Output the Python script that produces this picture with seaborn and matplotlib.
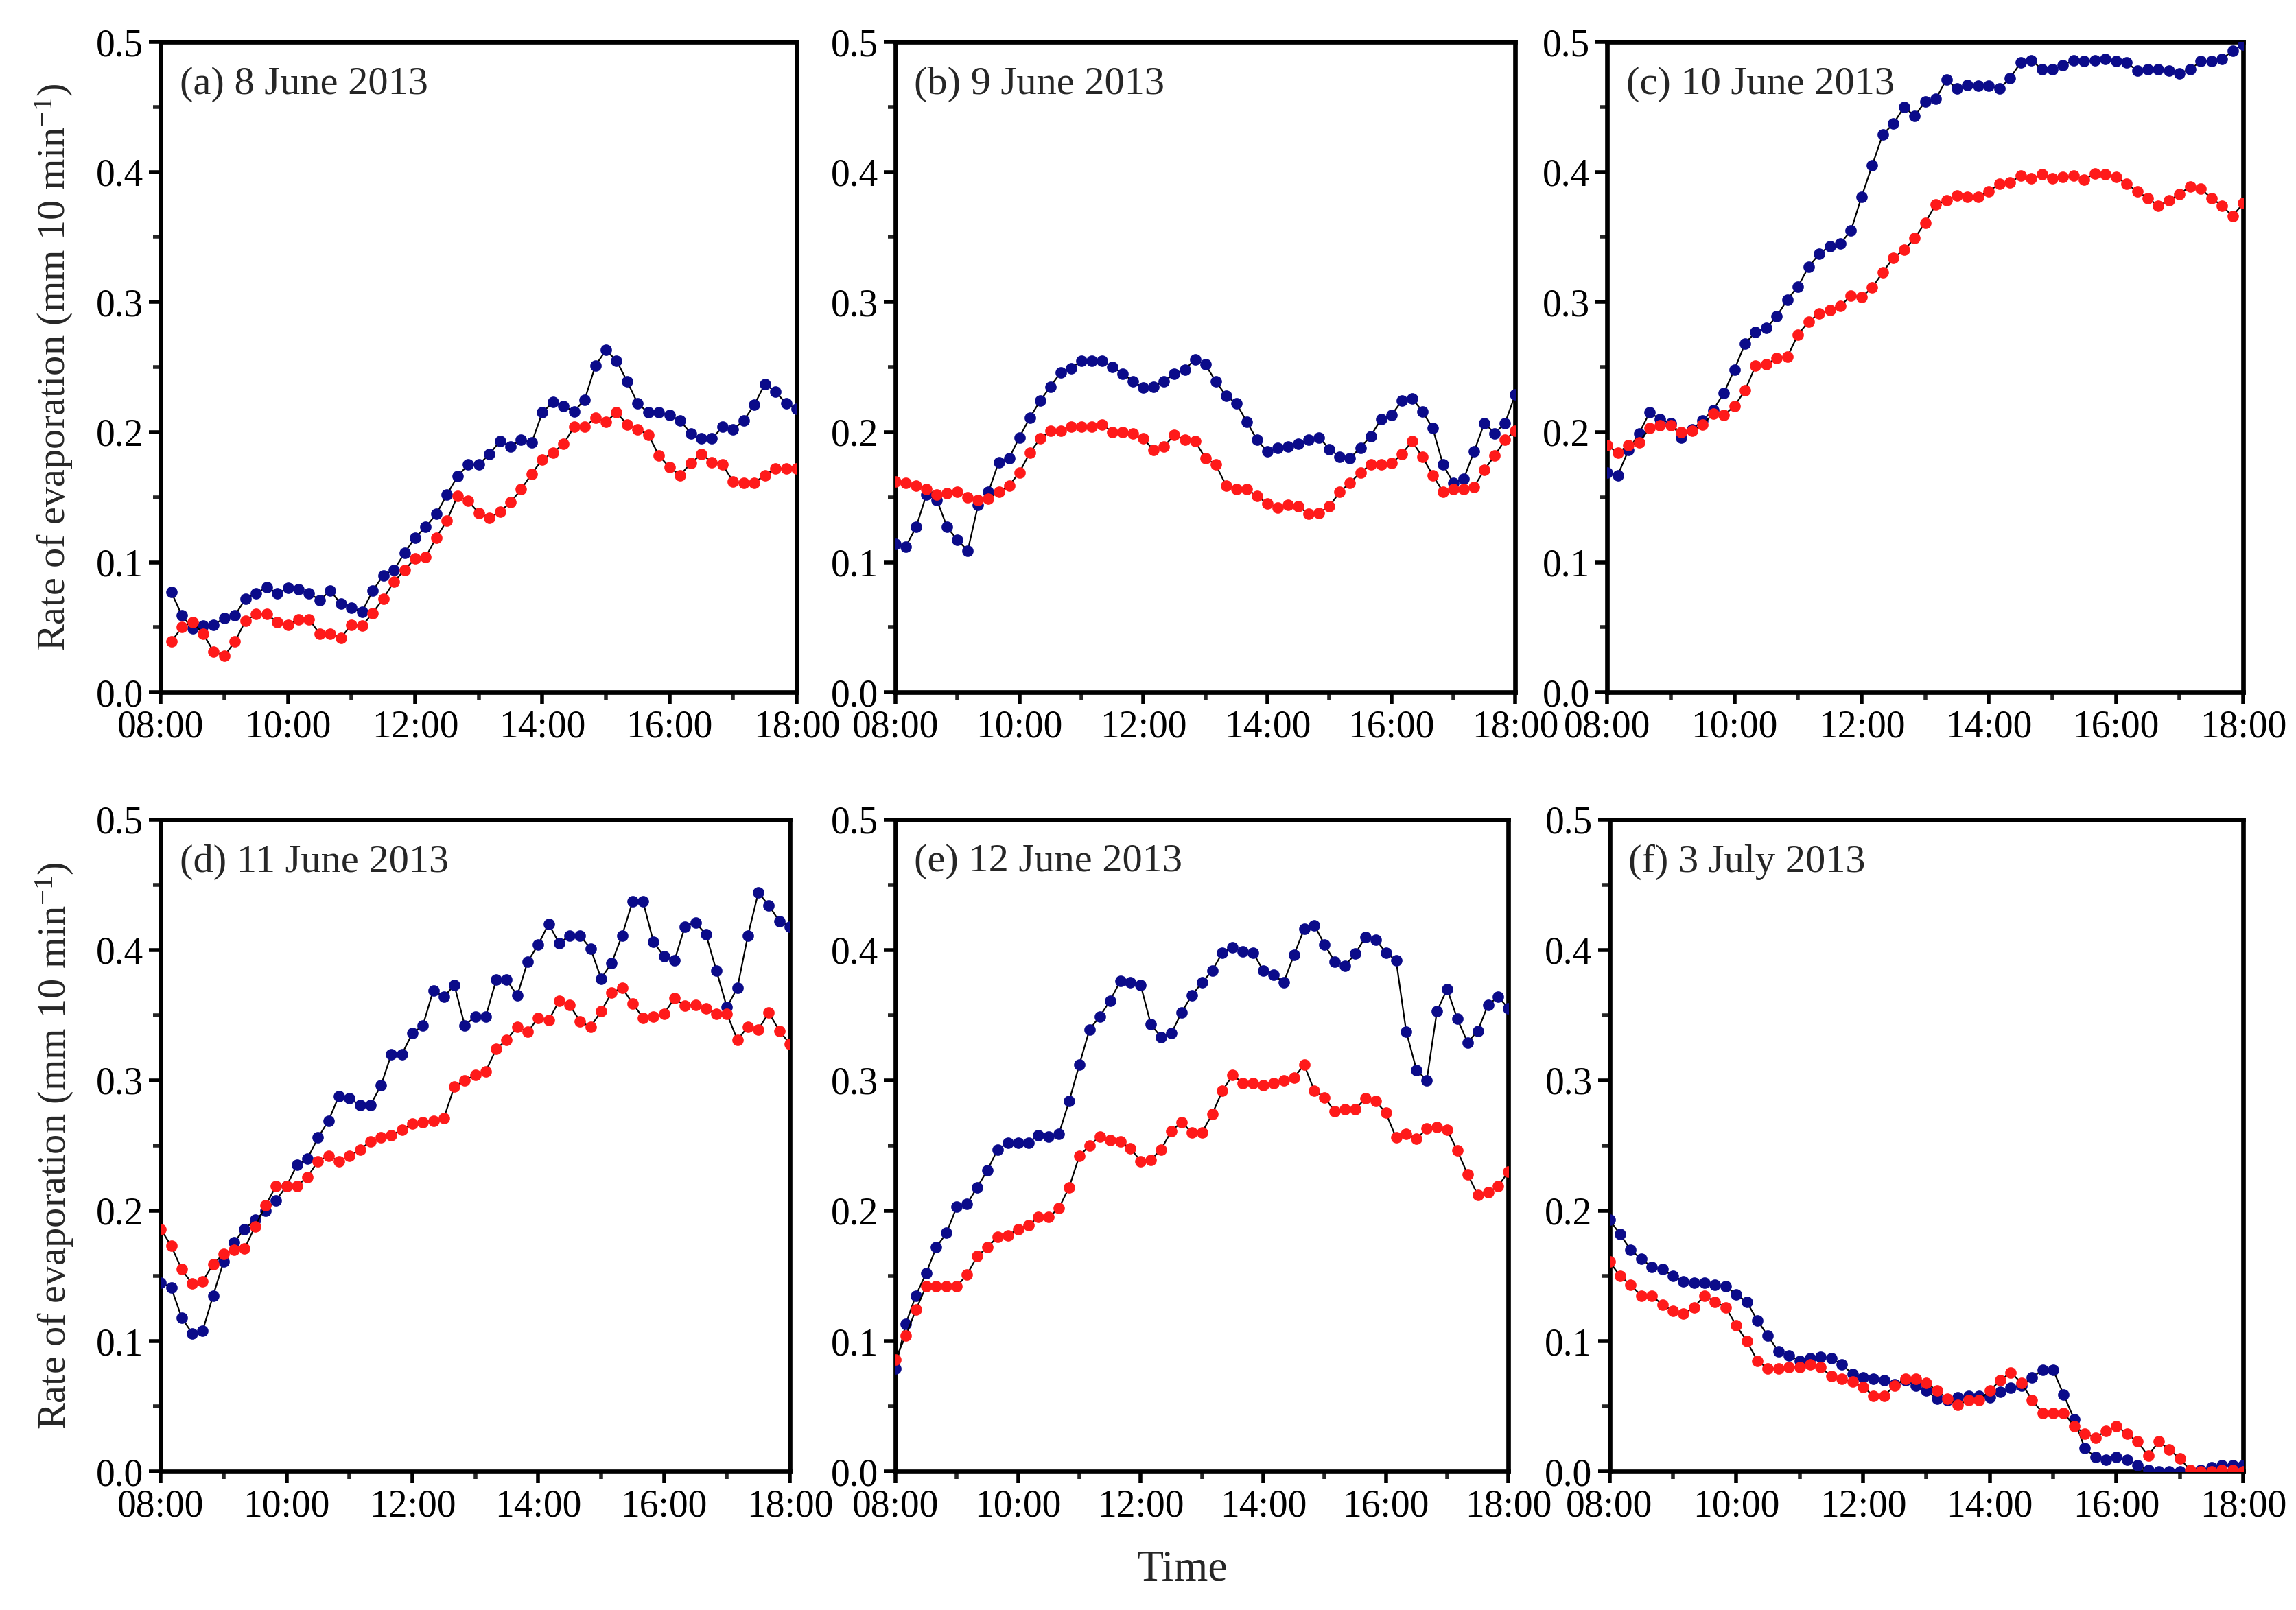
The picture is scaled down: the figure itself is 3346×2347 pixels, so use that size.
import numpy as np
import pandas as pd
import matplotlib
matplotlib.use('Agg')
import matplotlib.pyplot as plt
import seaborn as sns

# time grid: every 10 min from 08:00 to 18:00 (hours of day)
minutes = np.arange(8 * 60, 18 * 60 + 1, 10)
hours = minutes / 60.0
tick_hours = [8, 10, 12, 14, 16, 18]
tick_labels = ['08:00', '10:00', '12:00', '14:00', '16:00', '18:00']

panel_titles = ['(a) 8 June 2013', '(b) 9 June 2013', '(c) 10 June 2013',
                '(d) 11 June 2013', '(e) 12 June 2013', '(f) 3 July 2013']

# (a) starts at 08:10
blue_a = [0.077, 0.059, 0.049, 0.051, 0.052, 0.057, 0.059, 0.072, 0.076, 0.081,
          0.076, 0.080, 0.079, 0.076, 0.071, 0.078, 0.068, 0.065, 0.062, 0.078,
          0.090, 0.094, 0.107, 0.119, 0.127, 0.137, 0.152, 0.166, 0.175, 0.175,
          0.183, 0.193, 0.189, 0.194, 0.192, 0.215, 0.223, 0.220, 0.216, 0.225,
          0.251, 0.263, 0.255, 0.239, 0.222, 0.215, 0.215, 0.213, 0.209, 0.199,
          0.195, 0.195, 0.204, 0.202, 0.209, 0.221, 0.237, 0.231, 0.222, 0.218]
red_a = [0.039, 0.050, 0.054, 0.045, 0.031, 0.028, 0.039, 0.055, 0.060, 0.060,
         0.054, 0.052, 0.056, 0.056, 0.045, 0.045, 0.042, 0.052, 0.051, 0.061,
         0.072, 0.085, 0.094, 0.103, 0.104, 0.119, 0.132, 0.151, 0.147, 0.138,
         0.134, 0.139, 0.146, 0.156, 0.168, 0.179, 0.184, 0.191, 0.204, 0.204,
         0.211, 0.208, 0.215, 0.206, 0.202, 0.198, 0.182, 0.173, 0.167, 0.176,
         0.183, 0.177, 0.175, 0.162, 0.161, 0.161, 0.167, 0.172, 0.172, 0.172]

blue_b = [0.114, 0.112, 0.127, 0.152, 0.148, 0.127, 0.117, 0.109, 0.144, 0.154,
          0.177, 0.180, 0.196, 0.211, 0.224, 0.235, 0.246, 0.249, 0.255, 0.255,
          0.255, 0.250, 0.245, 0.239, 0.234, 0.235, 0.239, 0.245, 0.248, 0.256,
          0.252, 0.239, 0.228, 0.222, 0.208, 0.194, 0.185, 0.188, 0.189, 0.191,
          0.194, 0.196, 0.187, 0.181, 0.180, 0.188, 0.197, 0.210, 0.213, 0.224,
          0.226, 0.216, 0.203, 0.175, 0.161, 0.164, 0.185, 0.207, 0.199, 0.207,
          0.229]
red_b = [0.162, 0.161, 0.159, 0.156, 0.152, 0.153, 0.154, 0.150, 0.148, 0.149,
         0.154, 0.159, 0.169, 0.184, 0.195, 0.201, 0.201, 0.204, 0.204, 0.204,
         0.206, 0.200, 0.200, 0.199, 0.195, 0.186, 0.189, 0.198, 0.194, 0.193,
         0.180, 0.175, 0.159, 0.156, 0.156, 0.151, 0.145, 0.142, 0.144, 0.143,
         0.137, 0.138, 0.143, 0.154, 0.161, 0.169, 0.175, 0.175, 0.176, 0.183,
         0.193, 0.181, 0.167, 0.154, 0.156, 0.156, 0.158, 0.171, 0.182, 0.194,
         0.201]

blue_c = [0.169, 0.167, 0.186, 0.199, 0.215, 0.210, 0.207, 0.196, 0.202, 0.209,
          0.217, 0.230, 0.248, 0.268, 0.277, 0.280, 0.289, 0.302, 0.312, 0.327,
          0.337, 0.343, 0.345, 0.355, 0.381, 0.405, 0.429, 0.437, 0.450, 0.443,
          0.454, 0.456, 0.471, 0.464, 0.467, 0.466, 0.466, 0.464, 0.472, 0.484,
          0.486, 0.479, 0.479, 0.482, 0.486, 0.485, 0.486, 0.487, 0.485, 0.484,
          0.478, 0.479, 0.479, 0.478, 0.476, 0.479, 0.485, 0.485, 0.487, 0.493,
          0.498]
red_c = [0.190, 0.184, 0.190, 0.192, 0.203, 0.205, 0.205, 0.200, 0.201, 0.206,
         0.214, 0.213, 0.220, 0.232, 0.251, 0.252, 0.257, 0.258, 0.275, 0.285,
         0.291, 0.294, 0.297, 0.305, 0.304, 0.311, 0.323, 0.334, 0.340, 0.349,
         0.361, 0.375, 0.378, 0.382, 0.381, 0.381, 0.385, 0.391, 0.392, 0.397,
         0.395, 0.398, 0.395, 0.396, 0.397, 0.394, 0.399, 0.398, 0.396, 0.391,
         0.385, 0.380, 0.374, 0.378, 0.383, 0.389, 0.387, 0.380, 0.374, 0.366,
         0.376]

blue_d = [0.145, 0.141, 0.118, 0.106, 0.108, 0.135, 0.161, 0.176, 0.186, 0.193,
          0.200, 0.208, 0.219, 0.235, 0.240, 0.256, 0.269, 0.288, 0.286, 0.281,
          0.281, 0.296, 0.320, 0.320, 0.336, 0.342, 0.369, 0.364, 0.373, 0.342,
          0.349, 0.349, 0.377, 0.377, 0.365, 0.391, 0.404, 0.420, 0.405, 0.411,
          0.411, 0.401, 0.378, 0.390, 0.411, 0.437, 0.437, 0.406, 0.395, 0.392,
          0.418, 0.421, 0.412, 0.384, 0.356, 0.371, 0.411, 0.444, 0.434, 0.422,
          0.418]
red_d = [0.186, 0.173, 0.155, 0.144, 0.146, 0.159, 0.167, 0.170, 0.171, 0.188,
         0.204, 0.219, 0.219, 0.219, 0.226, 0.238, 0.242, 0.238, 0.242, 0.247,
         0.253, 0.256, 0.258, 0.262, 0.267, 0.268, 0.269, 0.271, 0.295, 0.300,
         0.304, 0.307, 0.324, 0.331, 0.341, 0.337, 0.348, 0.346, 0.361, 0.358,
         0.345, 0.341, 0.353, 0.367, 0.371, 0.359, 0.348, 0.349, 0.351, 0.363,
         0.357, 0.358, 0.355, 0.351, 0.351, 0.331, 0.341, 0.339, 0.352, 0.338,
         0.328]

blue_e = [0.079, 0.113, 0.135, 0.152, 0.172, 0.183, 0.203, 0.205, 0.218, 0.231,
          0.247, 0.252, 0.252, 0.252, 0.258, 0.257, 0.259, 0.284, 0.312, 0.339,
          0.349, 0.361, 0.376, 0.375, 0.373, 0.343, 0.333, 0.336, 0.352, 0.365,
          0.375, 0.384, 0.398, 0.402, 0.399, 0.398, 0.384, 0.381, 0.375, 0.396,
          0.416, 0.419, 0.404, 0.391, 0.388, 0.397, 0.410, 0.408, 0.398, 0.392,
          0.337, 0.308, 0.300, 0.353, 0.370, 0.347, 0.329, 0.338, 0.358, 0.364,
          0.355]
red_e = [0.086, 0.104, 0.124, 0.142, 0.142, 0.142, 0.142, 0.151, 0.165, 0.172,
         0.180, 0.181, 0.186, 0.189, 0.195, 0.195, 0.202, 0.218, 0.242, 0.250,
         0.257, 0.254, 0.253, 0.248, 0.238, 0.239, 0.247, 0.261, 0.268, 0.260,
         0.260, 0.274, 0.292, 0.304, 0.298, 0.298, 0.296, 0.298, 0.300, 0.302,
         0.312, 0.292, 0.287, 0.276, 0.278, 0.278, 0.286, 0.284, 0.275, 0.256,
         0.259, 0.255, 0.263, 0.264, 0.262, 0.246, 0.228, 0.212, 0.214, 0.219,
         0.230]

blue_f = [0.193, 0.182, 0.170, 0.163, 0.157, 0.155, 0.150, 0.146, 0.145, 0.145,
          0.143, 0.142, 0.136, 0.130, 0.116, 0.104, 0.092, 0.089, 0.085, 0.087,
          0.088, 0.087, 0.082, 0.075, 0.072, 0.071, 0.070, 0.067, 0.070, 0.066,
          0.062, 0.056, 0.055, 0.057, 0.058, 0.058, 0.057, 0.061, 0.064, 0.066,
          0.072, 0.078, 0.078, 0.059, 0.040, 0.018, 0.011, 0.009, 0.011, 0.009,
          0.005, 0.001, 0.000, 0.000, 0.000, 0.000, 0.001, 0.003, 0.005, 0.005,
          0.005]
red_f = [0.161, 0.150, 0.143, 0.135, 0.135, 0.128, 0.123, 0.121, 0.126, 0.135,
         0.130, 0.126, 0.112, 0.100, 0.085, 0.079, 0.079, 0.080, 0.080, 0.082,
         0.080, 0.073, 0.071, 0.069, 0.065, 0.058, 0.058, 0.066, 0.071, 0.071,
         0.068, 0.062, 0.056, 0.051, 0.055, 0.055, 0.062, 0.070, 0.076, 0.068,
         0.055, 0.045, 0.045, 0.045, 0.035, 0.029, 0.026, 0.031, 0.035, 0.029,
         0.023, 0.012, 0.023, 0.017, 0.010, 0.001, 0.000, 0.000, 0.001, 0.001,
         0.000]

blue_series = [blue_a, blue_b, blue_c, blue_d, blue_e, blue_f]
red_series = [red_a, red_b, red_c, red_d, red_e, red_f]

sns.set_style('ticks')
plt.rcParams['font.family'] = ['Liberation Serif', 'DejaVu Serif']
plt.rcParams['mathtext.default'] = 'regular'

fig = plt.figure(figsize=(16.73, 11.735), dpi=200)

# axes boxes [left, bottom, width, height] in figure fractions
boxes = [[0.070, 0.570, 0.277, 0.404],
         [0.390, 0.570, 0.270, 0.404],
         [0.700, 0.570, 0.277, 0.404],
         [0.070, 0.086, 0.274, 0.405],
         [0.390, 0.086, 0.267, 0.405],
         [0.701, 0.086, 0.276, 0.405]]

NAVY = '#0b0b8a'
RED = '#ff1a1a'

for i, box in enumerate(boxes):
    ax = fig.add_axes(box)
    for vals, col in [(blue_series[i], NAVY), (red_series[i], RED)]:
        x = hours[len(hours) - len(vals):]
        df = pd.DataFrame({'t': x, 'rate': vals})
        sns.lineplot(data=df, x='t', y='rate', ax=ax, color='black', lw=0.8,
                     marker='o', markersize=5.4, markerfacecolor=col,
                     markeredgecolor=col, markeredgewidth=0.6, zorder=3)

    ax.set_xlim(8, 18)
    ax.set_ylim(0, 0.5)
    ax.set_xticks(tick_hours)
    ax.set_xticklabels(tick_labels)
    ax.set_xticks([9, 11, 13, 15, 17], minor=True)
    ax.set_yticks([0.0, 0.1, 0.2, 0.3, 0.4, 0.5])
    ax.set_yticklabels(['0.0', '0.1', '0.2', '0.3', '0.4', '0.5'])
    ax.set_yticks([0.05, 0.15, 0.25, 0.35, 0.45], minor=True)
    ax.tick_params(which='major', direction='out', length=6, width=2,
                   labelsize=20, colors='black', pad=3)
    ax.tick_params(which='minor', direction='out', length=4, width=2)
    for sp in ax.spines.values():
        sp.set_linewidth(2.4)
        sp.set_color('black')
    ax.set_xlabel('')
    if i in (0, 3):
        ax.set_ylabel('Rate of evaporation (mm 10 min$^{-1}$)', fontsize=21)
        ax.yaxis.set_label_coords(-0.135, 0.5)
    else:
        ax.set_ylabel('')
    ax.text(0.03, 0.935, panel_titles[i], transform=ax.transAxes,
            fontsize=21, ha='left', va='center')

fig.text(0.515, 0.025, 'Time', fontsize=23, ha='center', va='center')

fig.savefig('out.png', dpi=200, facecolor='white')
